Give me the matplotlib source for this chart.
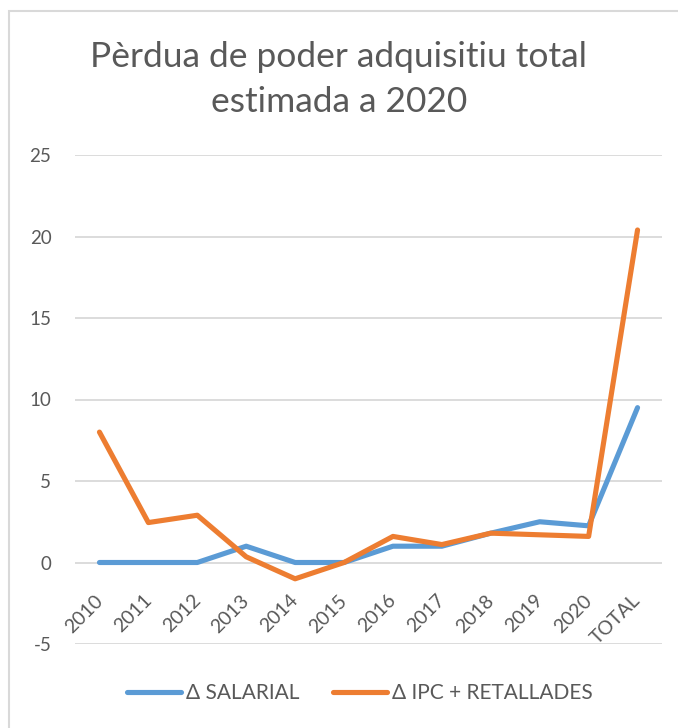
import matplotlib.pyplot as plt
from matplotlib.patches import Rectangle

categories = ['2010', '2011', '2012', '2013', '2014', '2015', '2016', '2017',
              '2018', '2019', '2020', 'TOTAL']
salarial = [0, 0, 0, 1.0, 0, 0, 1.0, 1.0, 1.8, 2.5, 2.25, 9.5]
ipc_retallades = [8.0, 2.45, 2.9, 0.35, -1.0, 0, 1.6, 1.1, 1.8, 1.7, 1.6, 20.4]
yticks = [-5, 0, 5, 10, 15, 20, 25]

plt.rcParams['font.family'] = ['Lato', 'DejaVu Sans']
W, H = 678, 728
fig = plt.figure(figsize=(W / 100, H / 100), dpi=100)

# chart area border (light grey)
fig.patches.append(Rectangle((9 / W, -0.1), 1.2, 1.1 - 11 / H, transform=fig.transFigure,
                             fill=False, edgecolor='#d9d9d9', linewidth=1.5))

ax = fig.add_axes([75 / W, 1 - 644 / H, (662 - 75) / W, (644 - 155) / H])
x = list(range(len(categories)))
ax.plot(x, salarial, color='#5b9bd5', linewidth=3.7, solid_capstyle='round',
        solid_joinstyle='round', label='Δ SALARIAL')
ax.plot(x, ipc_retallades, color='#ed7d31', linewidth=3.7, solid_capstyle='round',
        solid_joinstyle='round', label='Δ IPC + RETALLADES')

ax.set_xlim(-0.5, len(categories) - 0.5)
ax.set_ylim(-5, 25)
ax.set_yticks(yticks)
ax.set_yticklabels([str(v) for v in yticks], fontsize=13.5, color='#595959')
ax.yaxis.grid(True, color='#d9d9d9', linewidth=1.3)
ax.set_axisbelow(True)
ax.tick_params(axis='y', length=0, pad=17)
for s in ax.spines.values():
    s.set_visible(False)

# category labels sit just below the zero line, rotated 45 degrees
ax.set_xticks([])
for i, c in enumerate(categories):
    ax.annotate(c, (i, 0), xytext=(-4, -21), textcoords='offset points',
                rotation=45, ha='right', va='top', fontsize=14, color='#595959',
                rotation_mode='anchor')

fig.text(0.5, 1 - 57 / H, 'Pèrdua de poder adquisitiu total', ha='center', va='center',
         fontsize=25.5, color='#595959')
fig.text(0.5, 1 - 102 / H, 'estimada a 2020', ha='center', va='center',
         fontsize=25.5, color='#595959')

fig.legend(loc='center', bbox_to_anchor=(0.5 + 21 / W, 1 - 693 / H), ncol=2, frameon=False,
           fontsize=15, labelcolor='#595959', handlelength=2.6, columnspacing=1.6,
           handletextpad=0.25)

fig.savefig('out.png', dpi=100)
